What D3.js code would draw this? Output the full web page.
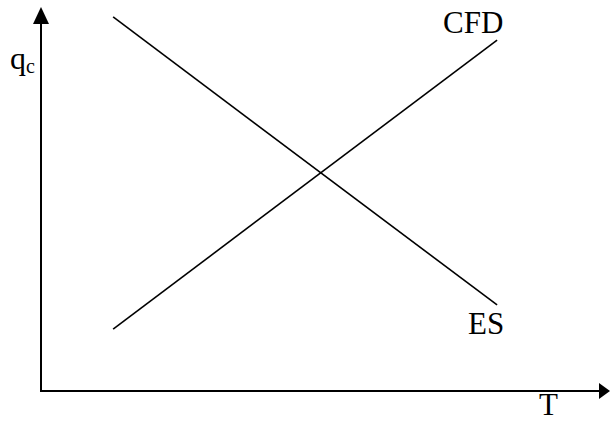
<!DOCTYPE html>
<html>
<head>
<meta charset="utf-8">
<script src="https://cdn.jsdelivr.net/npm/d3@7"></script>
<style>
  html, body { margin: 0; padding: 0; background: #fff; }
  svg text { font-family: "Liberation Serif", "Times New Roman", serif; fill: #000; }
</style>
</head>
<body>
<div id="chart"></div>
<script>
// Curve endpoints (T on x, qc on y, arbitrary units 0-10)
const curveNames = ["CFD", "ES"];
const curveT = [[1.27, 8.03], [1.27, 8.03]];
const curveQ = [[1.61, 9.14], [9.74, 2.24]];
const axisLabels = ["T", "q", "c"];

(function(){
    const width = 610, height = 421;

    const svg = d3.select("#chart").append("svg")
        .attr("width", width)
        .attr("height", height);

    // scales: origin of the axes sits at (41, 391)
    const x = d3.scaleLinear().domain([0, 10]).range([41, 609]);
    const y = d3.scaleLinear().domain([0, 10]).range([391, 7]);

    // axes with arrow heads
    svg.append("line")
        .attr("x1", x(0)).attr("y1", y(0))
        .attr("x2", x(0)).attr("y2", y(10) + 12)
        .attr("stroke", "#000").attr("stroke-width", 2);
    svg.append("path")
        .attr("d", `M${x(0)},${y(10)} L${x(0) - 8},${y(10) + 17} L${x(0) + 8},${y(10) + 17} Z`)
        .attr("fill", "#000");

    svg.append("line")
        .attr("x1", x(0) - 1).attr("y1", y(0))
        .attr("x2", x(10) - 8).attr("y2", y(0))
        .attr("stroke", "#000").attr("stroke-width", 2);
    svg.append("path")
        .attr("d", `M${x(10) + 1},${y(0)} L${x(10) - 10},${y(0) - 8} L${x(10) - 10},${y(0) + 8} Z`)
        .attr("fill", "#000");

    // the two curves
    const line = d3.line().x(d => x(d[0])).y(d => y(d[1]));
    curveNames.forEach((name, i) => {
        const pts = curveT[i].map((t, j) => [t, curveQ[i][j]]);
        svg.append("path")
            .attr("d", line(pts))
            .attr("fill", "none")
            .attr("stroke", "#000")
            .attr("stroke-width", 1.6);
    });

    // curve labels
    svg.append("text")
        .attr("x", 443).attr("y", 33)
        .style("font-size", "31px")
        .text(curveNames[0]);
    svg.append("text")
        .attr("x", 468).attr("y", 334)
        .style("font-size", "31px")
        .text(curveNames[1]);

    // axis labels
    svg.append("text")
        .attr("x", 539).attr("y", 415)
        .style("font-size", "31px")
        .text(axisLabels[0]);
    const q = svg.append("text")
        .attr("x", 10).attr("y", 69)
        .style("font-size", "32px");
    q.append("tspan").text(axisLabels[1]);
    q.append("tspan").attr("dy", 4).style("font-size", "20px").text(axisLabels[2]);
})();
</script>
</body>
</html>
